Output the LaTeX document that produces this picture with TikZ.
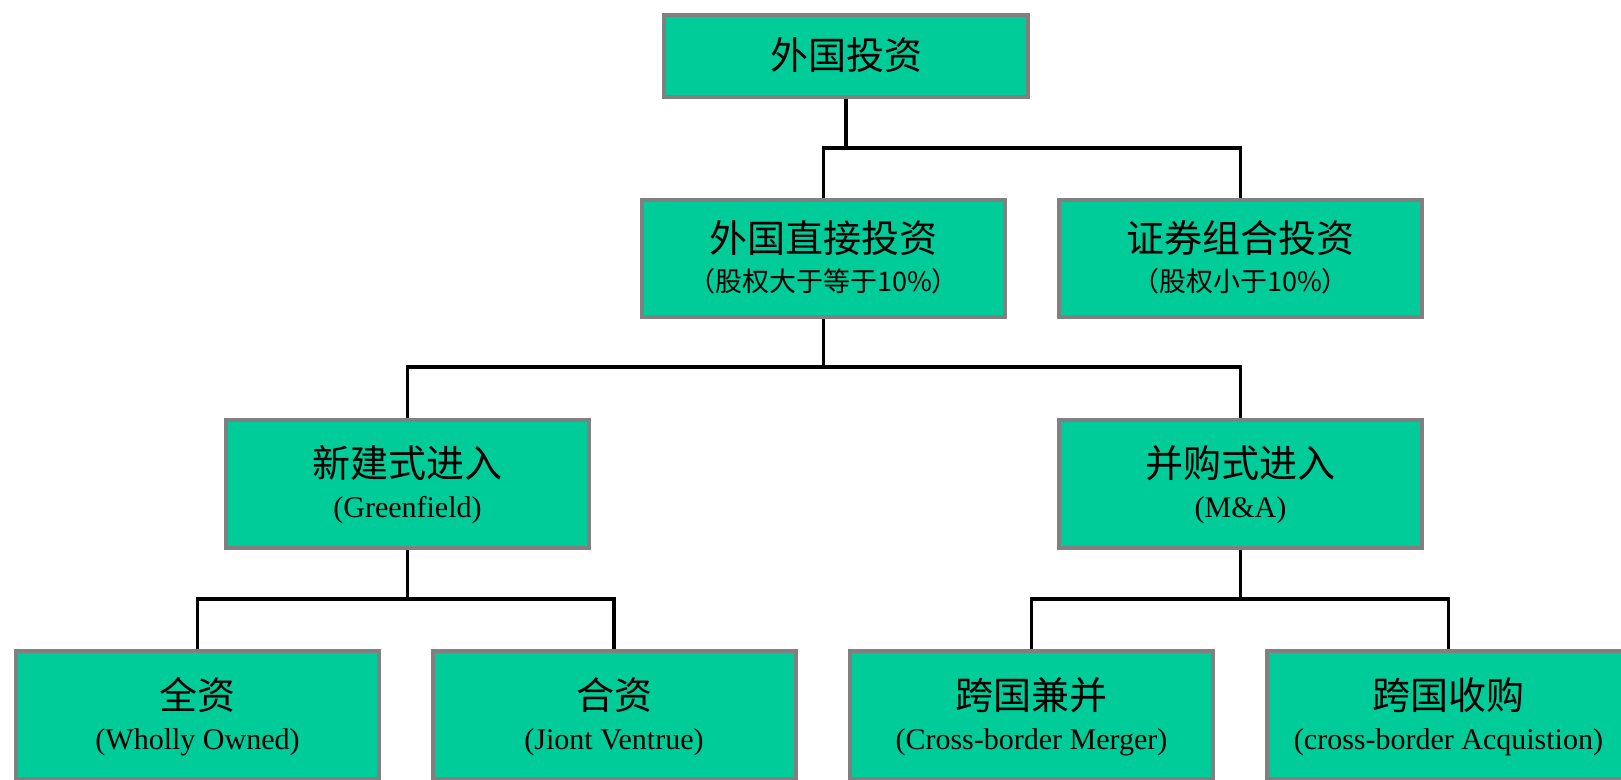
\documentclass[tikz,border=0pt]{standalone}
\usepackage{fontspec}
\setmainfont{Liberation Serif}
\newfontfamily\cjk{Noto Sans CJK SC}
\definecolor{boxfill}{RGB}{0,204,153}
\definecolor{boxline}{RGB}{128,128,128}
\begin{document}
\begin{tikzpicture}[x=1pt,y=-1pt,
  box/.style={draw=boxline, line width=4pt, fill=boxfill, minimum width=363pt, inner sep=0pt},
  conn/.style={draw=black, line width=3.6pt},
  hd/.style={inner sep=0pt, font=\cjk\fontsize{38}{40}\selectfont},
  sub/.style={inner sep=0pt, font=\cjk\fontsize{27}{30}\selectfont},
  en/.style={inner sep=0pt, font=\fontsize{30}{32}\selectfont}]
\useasboundingbox (0,0) rectangle (1621,779);
\clip (0,0) rectangle (1621,779);
% boxes
\node[box, minimum width=364pt, minimum height=82pt] (top) at (846,56) {};
\node[box, minimum height=117pt] (fdi) at (823.5,258.5) {};
\node[box, minimum height=117pt] (pf) at (1240.5,258.5) {};
\node[box, minimum height=128pt] (gf) at (407.5,484) {};
\node[box, minimum height=128pt] (ma) at (1240.5,484) {};
\node[box, minimum height=128pt] (wo) at (197.5,715) {};
\node[box, minimum height=128pt] (jv) at (614,715) {};
\node[box, minimum height=128pt] (cm) at (1031.5,715) {};
\node[box, minimum height=128pt] (ca) at (1448.5,715) {};
% connectors
\coordinate (j1) at (846,148);
\coordinate (j2) at (823.5,367);
\coordinate (j3) at (407.5,599);
\coordinate (j4) at (1240.5,599);
\draw[conn] (top.south) -- (j1);
\draw[conn] (fdi.north) |- (j1) -| (pf.north);
\draw[conn] (fdi.south) -- (j2);
\draw[conn] (gf.north) |- (j2) -| (ma.north);
\draw[conn] (gf.south) -- (j3);
\draw[conn] (wo.north) |- (j3) -| (jv.north);
\draw[conn] (ma.south) -- (j4);
\draw[conn] (cm.north) |- (j4) -| (ca.north);
% texts
\node[hd] (top-t) at (846,55) {外国投资};
\node[hd] (fdi-t1) at (823.5,238) {外国直接投资};
\node[sub] (fdi-t2) at (823.5,281) {（股权大于等于10\%）};
\node[hd] (pf-t1) at (1240.5,238) {证券组合投资};
\node[sub] (pf-t2) at (1240.5,281) {（股权小于10\%）};
\node[hd] (gf-t1) at (407.5,463) {新建式进入};
\node[en] (gf-t2) at (407.5,510) {(Greenfield)};
\node[hd] (ma-t1) at (1240.5,463) {并购式进入};
\node[en] (ma-t2) at (1240.5,510) {(M\&A)};
\node[hd] (wo-t1) at (197.5,695) {全资};
\node[en] (wo-t2) at (197.5,742) {(Wholly Owned)};
\node[hd] (jv-t1) at (614,695) {合资};
\node[en] (jv-t2) at (614,742) {(Jiont Ventrue)};
\node[hd] (cm-t1) at (1031.5,695) {跨国兼并};
\node[en] (cm-t2) at (1031.5,742) {(Cross-border Merger)};
\node[hd] (ca-t1) at (1448.5,695) {跨国收购};
\node[en] (ca-t2) at (1448.5,742) {(cross-border Acquistion)};
\end{tikzpicture}
\end{document}
